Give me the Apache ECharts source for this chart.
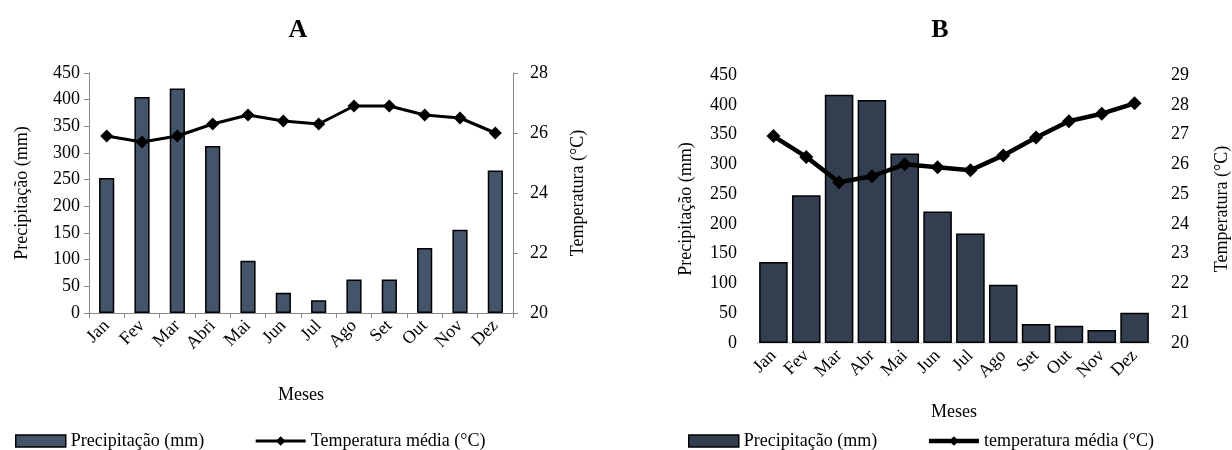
<!DOCTYPE html>
<html>
<head>
<meta charset="utf-8">
<script src="https://cdn.jsdelivr.net/npm/echarts@6/dist/echarts.min.js"></script>
<style>
html,body{margin:0;padding:0;background:#fff;}
#chart{width:1232px;height:450px;}
</style>
</head>
<body>
<div id="chart"></div>
<script>
// ---- Data ----
const monthsA = ['Jan','Fev','Mar','Abri','Mai','Jun','Jul','Ago','Set','Out','Nov','Dez'];
const precipA = [253, 405, 421, 313, 98, 38, 24, 63, 63, 122, 156, 267];
const tempA = [25.9, 25.7, 25.9, 26.3, 26.6, 26.4, 26.3, 26.9, 26.9, 26.6, 26.5, 26.0];

const monthsB = ['Jan','Fev','Mar','Abr','Mai','Jun','Jul','Ago','Set','Out','Nov','Dez'];
const precipB = [136, 248, 417, 408, 318, 221, 184, 98, 32, 29, 22, 51];
const tempB = [26.95, 26.25, 25.4, 25.6, 26.0, 25.9, 25.8, 26.3, 26.9, 27.45, 27.7, 28.05];

const seriesNamesA = ['Precipitação (mm)', 'Temperatura média (°C)'];
const seriesNamesB = ['Precipitação (mm) ', 'temperatura média (°C)'];
const axisNamesA = ['Meses', 'Precipitação (mm)', 'Temperatura (°C)'];
const axisNamesB = ['Meses', 'Precipitação (mm)', 'Temperatura (°C)'];
const panelTitles = ['A', 'B'];

const FONT = '"Liberation Serif", "Times New Roman", serif';
const colA = '#44546A';
const colB = '#333F50';
const axisGrey = '#898989';

const txt = {color: '#000', fontFamily: FONT, fontSize: 18};

const chart = echarts.init(document.getElementById('chart'), null, {renderer: 'canvas'});

const option = {
  animation: false,
  backgroundColor: '#fff',
  textStyle: {fontFamily: FONT},
  title: [
    {text: panelTitles[0], left: 293, top: 12, textAlign: 'center',
     textStyle: {fontFamily: FONT, fontWeight: 'bold', fontSize: 26, color: '#000'}},
    {text: panelTitles[1], left: 935, top: 12, textAlign: 'center',
     textStyle: {fontFamily: FONT, fontWeight: 'bold', fontSize: 26, color: '#000'}}
  ],
  legend: [
    {
      left: 10, top: 427, itemWidth: 50, itemHeight: 12, itemGap: 50,
      textStyle: txt,
      data: [
        {name: seriesNamesA[0], icon: 'rect', itemStyle: {color: colA, borderColor: '#000', borderWidth: 1.5}},
        {name: seriesNamesA[1], lineStyle: {width: 3, color: '#000'}}
      ]
    },
    {
      left: 683, top: 427, itemWidth: 50, itemHeight: 12, itemGap: 45,
      textStyle: txt,
      data: [
        {name: seriesNamesB[0], icon: 'rect', itemStyle: {color: colB, borderColor: '#000', borderWidth: 1.5}},
        {name: seriesNamesB[1], lineStyle: {width: 4.5, color: '#000'}}
      ]
    }
  ],
  grid: [
    {left: 89, top: 73, width: 424, height: 240},
    {left: 757, top: 75, width: 405, height: 268}
  ],
  xAxis: [
    {
      type: 'category', gridIndex: 0, data: monthsA,
      name: axisNamesA[0], nameLocation: 'middle', nameGap: 73, nameTextStyle: txt,
      axisLine: {lineStyle: {color: axisGrey, width: 1}},
      axisTick: {show: true, length: 5, lineStyle: {color: axisGrey}},
      axisLabel: {...txt, rotate: 45, interval: 0, margin: 10}
    },
    {
      type: 'category', gridIndex: 1, data: monthsB,
      name: axisNamesB[0], nameLocation: 'middle', nameGap: 60, nameTextStyle: txt,
      axisLine: {lineStyle: {color: '#d9d9d9', width: 1.5}},
      axisTick: {show: false},
      axisLabel: {...txt, rotate: 45, interval: 0, margin: 10}
    }
  ],
  yAxis: [
    {
      type: 'value', gridIndex: 0, min: 0, max: 450, interval: 50, position: 'left',
      name: axisNamesA[1], nameLocation: 'middle', nameGap: 58, nameRotate: 90, nameTextStyle: txt,
      axisLine: {show: true, lineStyle: {color: axisGrey}},
      axisTick: {show: true, length: 5, lineStyle: {color: axisGrey}},
      splitLine: {show: false},
      axisLabel: {...txt, margin: 9}
    },
    {
      type: 'value', gridIndex: 0, min: 20, max: 28, interval: 2, position: 'right',
      name: axisNamesA[2], nameLocation: 'middle', nameGap: 56, nameRotate: 90, nameTextStyle: txt,
      axisLine: {show: true, lineStyle: {color: axisGrey}},
      axisTick: {show: true, length: 5, lineStyle: {color: axisGrey}},
      splitLine: {show: false},
      axisLabel: {...txt, margin: 17}
    },
    {
      type: 'value', gridIndex: 1, min: 0, max: 450, interval: 50, position: 'left',
      name: axisNamesB[1], nameLocation: 'middle', nameGap: 62, nameRotate: 90, nameTextStyle: txt,
      axisLine: {show: false}, axisTick: {show: false}, splitLine: {show: false},
      axisLabel: {...txt, margin: 20}
    },
    {
      type: 'value', gridIndex: 1, min: 20, max: 29, interval: 1, position: 'right',
      name: axisNamesB[2], nameLocation: 'middle', nameGap: 62, nameRotate: 90, nameTextStyle: txt,
      axisLine: {show: false}, axisTick: {show: false}, splitLine: {show: false},
      axisLabel: {...txt, margin: 20}
    }
  ],
  series: [
    {
      name: seriesNamesA[0], type: 'bar', xAxisIndex: 0, yAxisIndex: 0, data: precipA,
      barWidth: '43%',
      itemStyle: {color: colA, borderColor: '#000', borderWidth: 1.5}
    },
    {
      name: seriesNamesA[1], type: 'line', xAxisIndex: 0, yAxisIndex: 1, data: tempA,
      symbol: 'diamond', symbolSize: 13,
      lineStyle: {color: '#000', width: 3},
      itemStyle: {color: '#000'}
    },
    {
      name: seriesNamesB[0], type: 'bar', xAxisIndex: 1, yAxisIndex: 2, data: precipB,
      barWidth: '87%',
      itemStyle: {color: colB, borderColor: '#000', borderWidth: 1.5}
    },
    {
      name: seriesNamesB[1], type: 'line', xAxisIndex: 1, yAxisIndex: 3, data: tempB,
      symbol: 'diamond', symbolSize: 14,
      lineStyle: {color: '#000', width: 4.5},
      itemStyle: {color: '#000'}
    }
  ]
};
chart.setOption(option);
</script>
</body>
</html>
